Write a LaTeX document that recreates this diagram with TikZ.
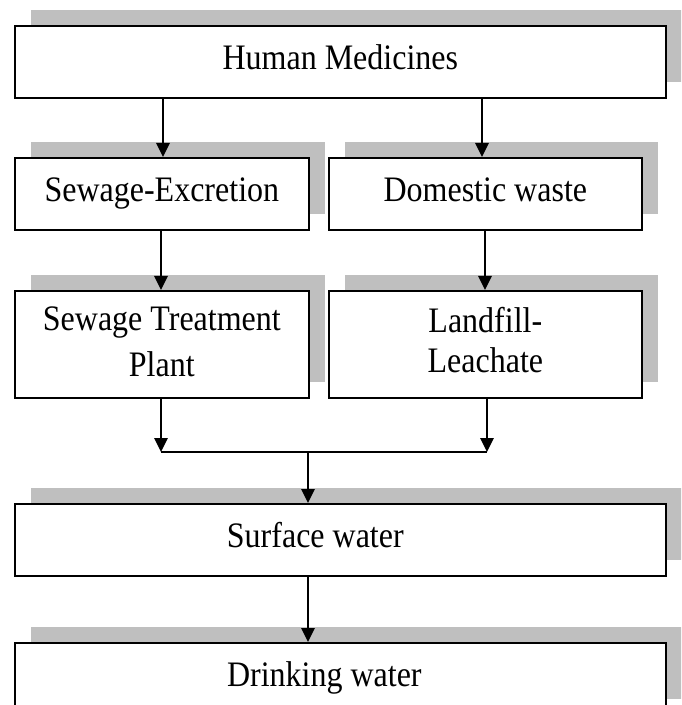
\documentclass[tikz,border=0pt]{standalone}
\usepackage{fontspec}
\setmainfont{Liberation Serif}
\usetikzlibrary{arrows.meta,shadows}
\definecolor{shadowc}{RGB}{191,191,191}
% #1 horizontal shift (twice the wanted offset), #2 raise, #3 line spacing, #4 text
\newcommand{\bt}[4]{\hspace*{#1}\raisebox{#2}{\scalebox{1}[1.12]{\fontsize{24pt}{#3}\selectfont\begin{tabular}{@{}c@{}}#4\end{tabular}}}}
\tikzset{
  box/.style={draw=black, line width=1.25pt, fill=white, anchor=north west,
    inner sep=0pt, align=center,
    drop shadow={shadow xshift=12pt, shadow yshift=12pt, fill=shadowc, opacity=1}},
  widebox/.style={box, minimum width=488.25pt, minimum height=54pt},
  lbox/.style={box, minimum width=220.5pt},
  rbox/.style={box, minimum width=234.75pt},
  arr/.style={line width=1.25pt, -{Triangle[length=10.5pt,width=10pt]}},
  plain/.style={line width=1.25pt}
}
\begin{document}
\begin{tikzpicture}[x=0.75pt,y=-0.75pt]
\clip (0,0) rectangle (681,705);
\node[widebox] (top) at (14,25) {\bt{0pt}{1.5pt}{26.8pt}{Human Medicines}};
\node[lbox, minimum height=54pt] (se) at (14,157) {\bt{0pt}{2.2pt}{26.8pt}{Sewage-Excretion}};
\node[rbox, minimum height=54pt] (dw) at (328,157) {\bt{0pt}{2.2pt}{26.8pt}{Domestic waste}};
\node[lbox, minimum height=80.25pt] (stp) at (14,290) {\bt{0pt}{-1pt}{30.8pt}{Sewage Treatment\\Plant}};
\node[rbox, minimum height=80.25pt] (ll) at (328,290) {\bt{0pt}{1.9pt}{26.8pt}{Landfill-\\Leachate}};
\node[widebox] (sw) at (14,503) {\bt{-37.5pt}{3pt}{26.8pt}{Surface water}};
\node[widebox] (dk) at (14,642) {\bt{-24pt}{3pt}{26.8pt}{Drinking water}};
\coordinate (c1) at (163,0);
\coordinate (c2) at (482,0);
\coordinate (c3) at (161,0);
\coordinate (c4) at (485,0);
\coordinate (jL) at (161,452);
\coordinate (jR) at (487,452);
\coordinate (jM) at (308,452);
\draw[arr] (top.south -| c1) -- (se.north -| c1);
\draw[arr] (top.south -| c2) -- (dw.north -| c2);
\draw[arr] (se.south -| c3) -- (stp.north -| c3);
\draw[arr] (dw.south -| c4) -- (ll.north -| c4);
\draw[arr] (stp.south -| jL) -- (jL);
\draw[arr] (ll.south -| jR) -- (jR);
\draw[plain] (jL) -- (jR);
\draw[arr] (jM) -- (sw.north -| jM);
\draw[arr] (sw.south -| jM) -- (dk.north -| jM);
\end{tikzpicture}
\end{document}
